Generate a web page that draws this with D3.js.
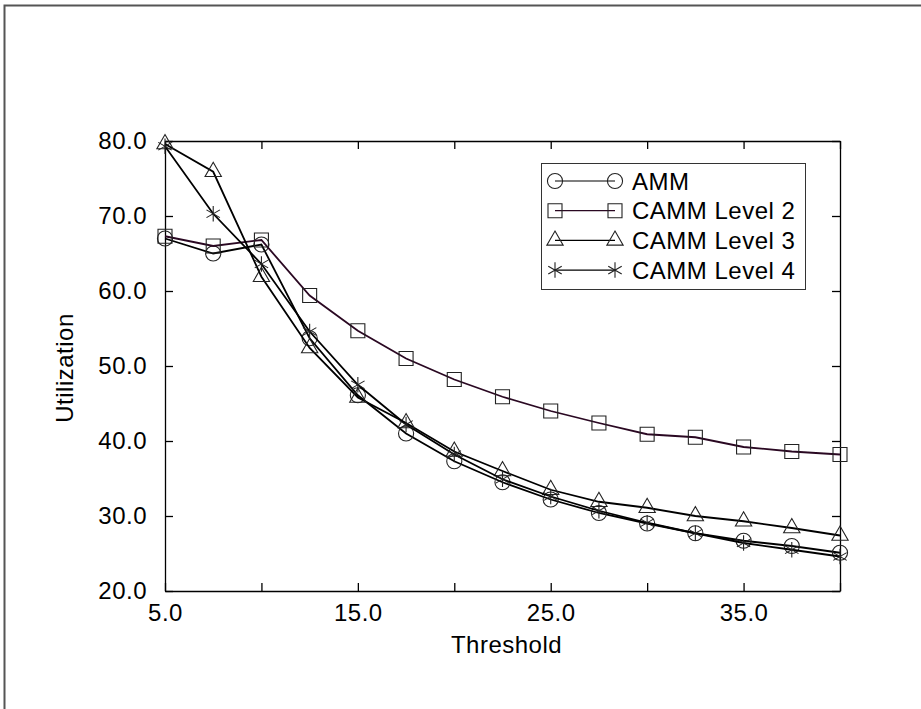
<!DOCTYPE html>
<html>
<head>
<meta charset="utf-8">
<script src="https://cdn.jsdelivr.net/npm/d3@7"></script>
<style>
  body { margin: 0; background: #fff; }
  text { font-family: "Liberation Sans", Arial, sans-serif; fill: #000; letter-spacing: 0.5px; }
</style>
</head>
<body>
<svg width="921" height="709"></svg>
<script>
var thresholds = [5, 7.5, 10, 12.5, 15, 17.5, 20, 22.5, 25, 27.5, 30, 32.5, 35, 37.5, 40];
var amm   = [67.0, 65.0, 66.2, 53.7, 46.1, 41.0, 37.3, 34.5, 32.2, 30.4, 29.0, 27.7, 26.7, 26.0, 25.1];
var camm2 = [67.3, 66.0, 66.8, 59.4, 54.7, 51.0, 48.2, 45.9, 44.0, 42.4, 40.9, 40.5, 39.2, 38.6, 38.2];
var camm3 = [79.6, 75.9, 61.9, 52.4, 45.8, 42.4, 38.6, 36.0, 33.5, 31.9, 31.1, 30.0, 29.3, 28.4, 27.4];
var camm4 = [79.3, 70.3, 63.6, 54.6, 47.5, 42.2, 38.2, 34.9, 32.6, 30.7, 29.1, 27.7, 26.4, 25.5, 24.6];
var seriesNames = ["AMM", "CAMM Level 2", "CAMM Level 3", "CAMM Level 4"];
var xTickLabels = [5, 15, 25, 35];
var yTicks = [20, 30, 40, 50, 60, 70, 80];

var svg = d3.select("svg"),
    margin = {top: 141, right: 81, bottom: 118, left: 165},
    width = +svg.attr("width") - margin.left - margin.right,
    height = +svg.attr("height") - margin.top - margin.bottom;

// outer frame (only top and left edges show)
svg.append("rect")
    .attr("x", 4.5).attr("y", 5.5)
    .attr("width", 940).attr("height", 740)
    .style("fill", "none")
    .style("stroke", "#555")
    .style("stroke-width", 2);

var x = d3.scaleLinear().domain([5, 40]).range([0, width]);
var y = d3.scaleLinear().domain([20, 80]).range([height, 0]);

var g = svg.append("g")
    .attr("transform", "translate(" + margin.left + "," + margin.top + ")");

var fmt = function(d) { return d.toFixed(1); };

g.append("g")
    .attr("class", "axis")
    .attr("transform", "translate(0," + height + ")")
    .call(d3.axisBottom(x).tickValues(d3.range(5, 41, 5)).tickSizeInner(-8).tickSizeOuter(0).tickPadding(13)
      .tickFormat(function(d) { return xTickLabels.indexOf(d) >= 0 ? fmt(d) : ""; }));

g.append("g")
    .attr("class", "axis")
    .call(d3.axisLeft(y).tickValues(yTicks).tickSizeInner(-8).tickSizeOuter(0).tickPadding(18).tickFormat(fmt));

g.append("g")
    .attr("class", "axis")
    .call(d3.axisTop(x).tickValues(d3.range(5, 41, 5)).tickSizeInner(-8).tickSizeOuter(0).tickFormat(""));

g.append("g")
    .attr("class", "axis")
    .attr("transform", "translate(" + width + ",0)")
    .call(d3.axisRight(y).tickValues(yTicks).tickSizeInner(-8).tickSizeOuter(0).tickFormat(""));

g.selectAll(".axis path, .axis line").style("stroke", "#000").style("stroke-width", 1.3);
g.selectAll(".axis text").style("font-size", "24px").style("font-family", "Liberation Sans, Arial, sans-serif");

g.append("text")
    .attr("x", width / 2 + 4)
    .attr("y", height + 62)
    .attr("text-anchor", "middle")
    .style("font-size", "24px")
    .text("Threshold");

g.append("text")
    .attr("transform", "translate(" + (-100) + "," + (height / 2 + 2) + ") rotate(-90)")
    .attr("text-anchor", "middle")
    .attr("dy", "0.35em")
    .style("font-size", "24px")
    .text("Utilization");

var symbols = [
  d3.symbol().type(d3.symbolCircle).size(180),
  d3.symbol().type(d3.symbolSquare).size(196),
  d3.symbol().type(d3.symbolTriangle).size(115),
  d3.symbol().type(d3.symbolAsterisk).size(170)
];
var lineColors = ["#000", "#2a0822", "#000", "#000"];

var series = [amm, camm2, camm3, camm4].map(function(vals, i) {
  return {
    id: seriesNames[i],
    values: thresholds.map(function(t, j) { return {t: t, v: vals[j]}; })
  };
});

var line = d3.line()
    .x(function(d) { return x(d.t); })
    .y(function(d) { return y(d.v); });

var s = g.selectAll(".series")
  .data(series)
  .enter().append("g")
    .attr("class", "series");

s.append("path")
    .attr("d", function(d) { return line(d.values); })
    .style("fill", "none")
    .style("stroke", function(d, i) { return lineColors[i]; })
    .style("stroke-width", 1.8);

s.each(function(d, i) {
  d3.select(this).selectAll(".mark")
    .data(d.values)
    .enter().append("path")
      .attr("class", "mark")
      .attr("transform", function(p) { return "translate(" + x(p.t) + "," + y(p.v) + ")"; })
      .attr("d", symbols[i])
      .style("fill", "none")
      .style("stroke", "#222")
      .style("stroke-width", 1.1);
});

// legend
var legend = svg.append("g").attr("transform", "translate(541,163)");
legend.append("rect")
    .attr("x", 0.5).attr("y", 0.5)
    .attr("width", 264).attr("height", 126)
    .style("fill", "#fff")
    .style("stroke", "#333")
    .style("stroke-width", 1);

var item = legend.selectAll(".item")
  .data(seriesNames)
  .enter().append("g")
    .attr("class", "item")
    .attr("transform", function(d, i) { return "translate(0," + (18 + i * 29.7) + ")"; });

item.append("line")
    .attr("x1", 14).attr("x2", 74)
    .style("stroke", function(d, i) { return lineColors[i]; })
    .style("stroke-width", 1.2);

[14, 74].forEach(function(px) {
  item.append("path")
    .attr("transform", "translate(" + px + ",0)")
    .attr("d", function(d, i) { return symbols[i](); })
    .style("fill", "none")
    .style("stroke", "#222")
    .style("stroke-width", 1.1);
});

item.append("text")
    .attr("x", 91)
    .attr("dy", "0.36em")
    .style("font-size", "24px")
    .text(function(d) { return d; });
</script>
</body>
</html>
